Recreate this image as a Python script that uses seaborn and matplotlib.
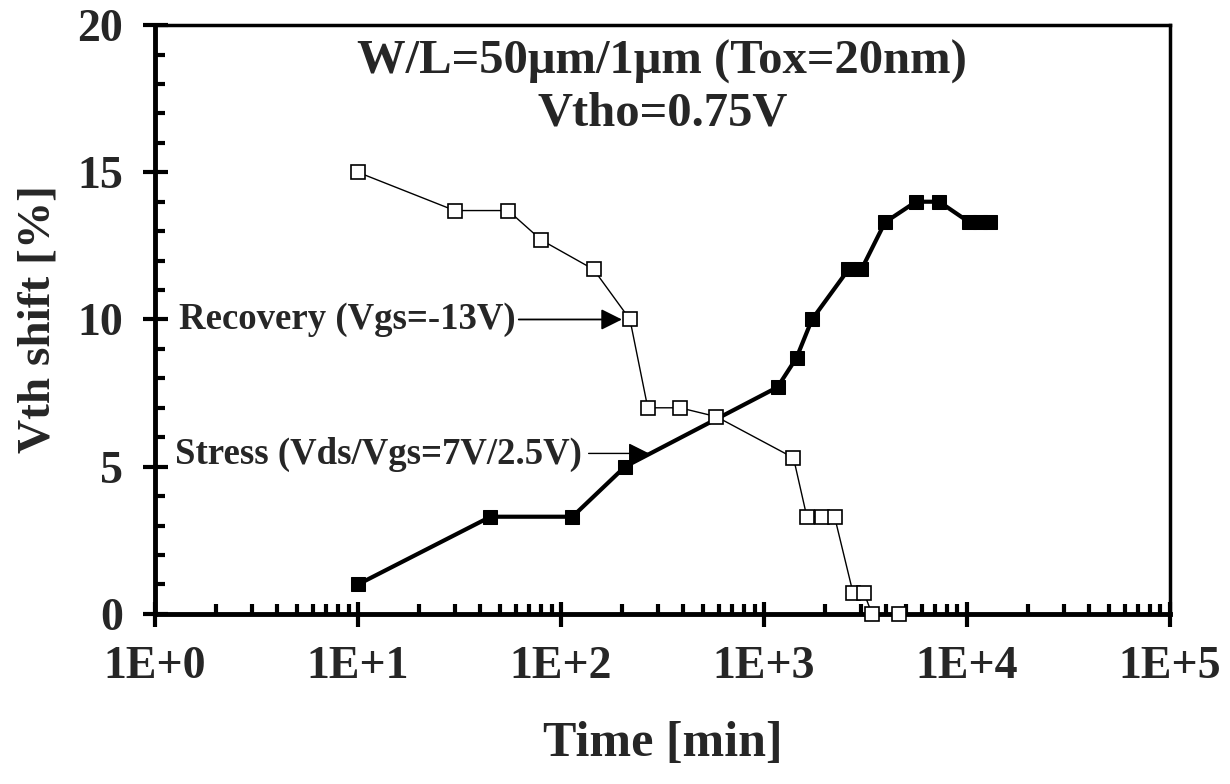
import numpy as np
import pandas as pd
import seaborn as sns
import matplotlib
matplotlib.use("Agg")
import matplotlib.pyplot as plt
from matplotlib.ticker import FixedLocator, FuncFormatter, LogLocator, NullFormatter, MultipleLocator

# Stress: Vds/Vgs = 7V/2.5V
stress_time = [10, 45, 114, 207, 1168, 1449, 1727, 2612, 3027, 3954, 5620, 7310, 10300, 11600, 13060]
stress_shift = [1.0, 3.3, 3.3, 5.0, 7.7, 8.7, 10.0, 11.7, 11.7, 13.3, 14.0, 14.0, 13.3, 13.3, 13.3]

# Recovery: Vgs = -13V
recovery_time = [10, 30, 55, 80, 145, 219, 268, 386, 583, 1400, 1629, 1944, 2232, 2754, 3119, 3413, 4635]
recovery_shift = [15.0, 13.7, 13.7, 12.7, 11.7, 10.0, 7.0, 7.0, 6.7, 5.3, 3.3, 3.3, 3.3, 0.7, 0.7, 0.0, 0.0]

x_ticks = [1, 10, 100, 1000, 10000, 100000]
y_ticks = [0, 5, 10, 15, 20]

title_lines = ["W/L=50\u03bcm/1\u03bcm (Tox=20nm)", "Vtho=0.75V"]
x_label = "Time [min]"
y_label = "Vth shift [%]"
recovery_text = "Recovery (Vgs=-13V)"
stress_text = "Stress (Vds/Vgs=7V/2.5V)"

sns.set_style("ticks")
plt.rcParams["font.family"] = ["Liberation Serif", "DejaVu Serif"]
plt.rcParams["font.weight"] = "bold"

fig = plt.figure(figsize=(12.3, 7.84), dpi=100)
ax = fig.add_axes([0.126, 0.217, 0.825, 0.751])

stress_df = pd.DataFrame({"t": stress_time, "v": stress_shift})
recovery_df = pd.DataFrame({"t": recovery_time, "v": recovery_shift})

sns.lineplot(data=stress_df, x="t", y="v", ax=ax, sort=False, color="black",
             linewidth=3.0, marker="s", markersize=10, markerfacecolor="black",
             markeredgecolor="black", zorder=3, clip_on=False)
sns.lineplot(data=recovery_df, x="t", y="v", ax=ax, sort=False, color="black",
             linewidth=1.0, marker="s", markersize=10.5, markerfacecolor="white",
             markeredgecolor="black", markeredgewidth=1.2, zorder=5, clip_on=False)

ax.set_xscale("log")
ax.set_xlim(1, 1e5)
ax.set_ylim(0, 20)

ax.xaxis.set_major_locator(FixedLocator(x_ticks))
ax.xaxis.set_major_formatter(FuncFormatter(lambda v, p: "1E+%d" % int(round(np.log10(v)))))
ax.xaxis.set_minor_locator(LogLocator(base=10, subs=np.arange(2, 10), numticks=20))
ax.xaxis.set_minor_formatter(NullFormatter())
ax.yaxis.set_major_locator(FixedLocator(y_ticks))
ax.yaxis.set_minor_locator(MultipleLocator(1))

ax.tick_params(axis="both", which="major", direction="inout", length=18, width=3,
               labelsize=33, color="black")
ax.tick_params(axis="x", which="major", pad=14)
ax.tick_params(axis="y", which="major", pad=14)
ax.tick_params(axis="both", which="minor", direction="in", length=7, width=3, color="black")
for lab in ax.get_xticklabels() + ax.get_yticklabels():
    lab.set_fontweight("bold")

for side in ["left", "bottom"]:
    ax.spines[side].set_linewidth(3.5)
for side in ["top", "right"]:
    ax.spines[side].set_linewidth(2.5)
for s in ax.spines.values():
    s.set_color("black")
    s.set_zorder(4)

ax.set_xlabel(x_label, fontsize=36, fontweight="bold", labelpad=24)
ax.set_ylabel(y_label, fontsize=34, fontweight="bold", labelpad=13)

ax.text(0.5, 0.937, title_lines[0], transform=ax.transAxes, ha="center", va="center",
        fontsize=35, fontweight="bold")
ax.text(0.5, 0.849, title_lines[1], transform=ax.transAxes, ha="center", va="center",
        fontsize=35, fontweight="bold")

# Annotations with arrows pointing at the two curves
ax.text(1.31, 10.0, recovery_text, ha="left", va="center", fontsize=26.5, fontweight="bold")
ax.annotate("", xy=(200, 10.0), xytext=(62, 10.0),
            arrowprops=dict(arrowstyle="-|>", color="black", lw=1.3,
                            mutation_scale=32, shrinkA=0, shrinkB=0))
ax.text(1.25, 5.4, stress_text, ha="left", va="center", fontsize=26.5, fontweight="bold")
ax.annotate("", xy=(272, 5.45), xytext=(137, 5.45),
            arrowprops=dict(arrowstyle="-|>", color="black", lw=1.0,
                            mutation_scale=32, shrinkA=0, shrinkB=0))

if ax.get_legend() is not None:
    ax.get_legend().remove()

fig.savefig("out.png", dpi=100, facecolor="white")
